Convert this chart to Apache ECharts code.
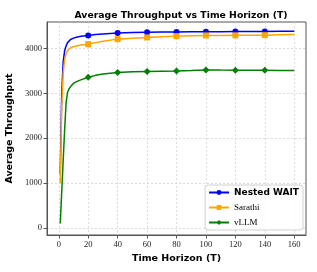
<!DOCTYPE html>
<html><head><meta charset="utf-8">
<script src="https://cdn.jsdelivr.net/npm/echarts@6/dist/echarts.min.js"></script>
<style>html,body{margin:0;padding:0;background:#fff}#c{width:317px;height:272px}</style>
</head><body><div id="c"></div>
<script>
const T = [1,2,3,4,5,6,7,8,10,12,15,20,25,30,40,50,60,70,80,90,100,110,120,130,140,150,160];
const nestedWait = [1200,3000,3700,3950,4060,4130,4170,4200,4230,4250,4270,4290,4310,4325,4342,4355,4364,4366,4368,4370,4371,4374,4376,4378,4380,4381,4382];
const sarathi = [1000,2700,3450,3750,3880,3950,3990,4015,4040,4055,4075,4096,4130,4160,4208,4230,4245,4262,4275,4283,4290,4290,4292,4295,4297,4305,4313];
const vllm = [100,800,1500,2200,2800,3030,3100,3150,3220,3260,3300,3358,3400,3430,3464,3478,3486,3494,3500,3510,3522,3518,3515,3515,3515,3511,3508];
const markerT = [20,40,60,80,100,120,140];
const xTicks = [0,20,40,60,80,100,120,140,160];
const yTicks = [0,1000,2000,3000,4000];

const serif = '"Liberation Serif", "DejaVu Serif", serif';
const sans = '"DejaVu Sans", sans-serif';

function build(vals, size) {
  return T.map((t, i) => ({ value: [t, vals[i]], symbolSize: markerT.includes(t) ? size : 0 }));
}
function mkSeries(name, vals, color, symbol, size) {
  return {
    name, type: 'line', data: build(vals, size), symbol, symbolSize: size,
    showSymbol: true, showAllSymbol: true, smooth: false,
    lineStyle: { color, width: 1.5 }, itemStyle: { color, borderWidth: 0 },
    emphasis: { disabled: true }, animation: false
  };
}
const chart = echarts.init(document.getElementById('c'), null, { renderer: 'canvas' });
chart.setOption({
  animation: false,
  title: {
    text: 'Average Throughput vs Time Horizon (T)', left: 176, top: 6, textAlign: 'center',
    textStyle: { fontFamily: sans, fontWeight: 'bold', fontSize: 9.3, color: '#000' }
  },
  grid: { left: 47, right: 11, top: 22, bottom: 37, containLabel: false, outerBoundsMode: 'none',
          show: true, borderColor: '#555', borderWidth: 1, backgroundColor: 'transparent' },
  legend: {
    orient: 'vertical', right: 14, bottom: 42, itemWidth: 20, itemHeight: 6, itemGap: 6,
    backgroundColor: 'rgba(255,255,255,0.85)', borderColor: '#d0d0d0', borderWidth: 1, borderRadius: 3,
    padding: [3, 4, 3, 3],
    textStyle: { fontFamily: serif, fontSize: 9, color: '#000' },
    data: [
      { name: 'Nested WAIT', textStyle: { fontFamily: sans, fontWeight: 'bold', fontSize: 9 } },
      { name: 'Sarathi' }, { name: 'vLLM' }
    ]
  },
  xAxis: {
    type: 'value', min: -8, max: 168,
    name: 'Time Horizon (T)', nameLocation: 'middle', nameGap: 18,
    nameTextStyle: { fontFamily: sans, fontWeight: 'bold', fontSize: 9.5, color: '#000' },
    axisLine: { show: true, onZero: false, lineStyle: { color: '#555' } },
    axisTick: { show: true, inside: false, length: 3.5, lineStyle: { color: '#555' }, customValues: xTicks },
    axisLabel: { customValues: xTicks, fontFamily: serif, fontSize: 8.5, color: '#222', margin: 5 },
    splitLine: { show: true, lineStyle: { color: '#d4d4d4', type: [2, 2], width: 0.8 } }
  },
  yAxis: {
    type: 'value', min: -160, max: 4590,
    name: 'Average Throughput', nameLocation: 'middle', nameGap: 25,
    nameTextStyle: { fontFamily: sans, fontWeight: 'bold', fontSize: 9.5, color: '#000' },
    axisLine: { show: true, onZero: false, lineStyle: { color: '#555' } },
    axisTick: { show: true, inside: false, length: 3.5, lineStyle: { color: '#555' }, customValues: yTicks },
    axisLabel: { customValues: yTicks, formatter: v => String(v), fontFamily: serif, fontSize: 8.5, color: '#222', margin: 5 },
    splitLine: { show: true, lineStyle: { color: '#d4d4d4', type: [2, 2], width: 0.8 } }
  },
  series: [
    mkSeries('Nested WAIT', nestedWait, '#0000ff', 'circle', 6),
    mkSeries('Sarathi', sarathi, '#ffa500', 'rect', 6),
    mkSeries('vLLM', vllm, '#008000', 'diamond', 7)
  ]
});
</script></body></html>
